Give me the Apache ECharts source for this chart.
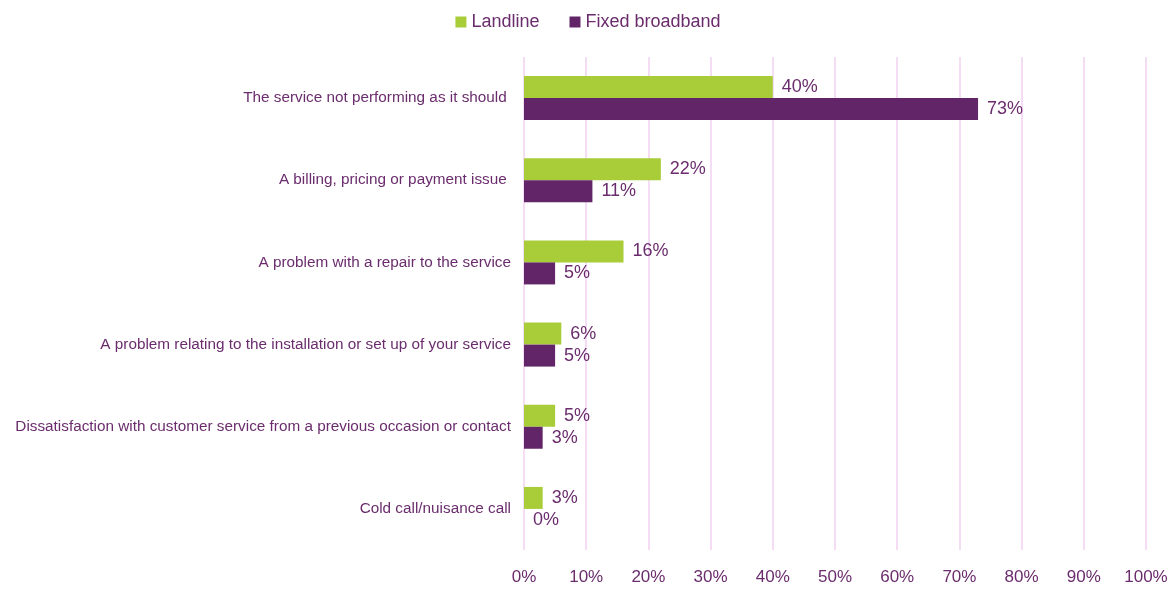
<!DOCTYPE html>
<html>
<head>
<meta charset="utf-8">
<script src="https://cdn.jsdelivr.net/npm/echarts@6/dist/echarts.min.js"></script>
<style>
  html, body { margin: 0; padding: 0; background: #fff; }
  #chart { width: 1176px; height: 592px; }
</style>
</head>
<body>
<div id="chart"></div>
<script>
const categories = [
  'The service not performing as it should ',
  'A billing, pricing or payment issue ',
  'A problem with a repair to the service',
  'A problem relating to the installation or set up of your service',
  'Dissatisfaction with customer service from a previous occasion or contact',
  'Cold call/nuisance call'
]
const landline = [40, 22, 16, 6, 5, 3]
const fixedBroadband = [73, 11, 5, 5, 3, 0]
const xTicks = [0, 10, 20, 30, 40, 50, 60, 70, 80, 90, 100]

const textColor = '#6a2c6c'
const font = '"Liberation Sans Narrow", "Arial Narrow", "Liberation Sans", sans-serif'

const chart = echarts.init(document.getElementById('chart'))

function barLabel() {
  return {
    show: true,
    position: 'right',
    distance: 9,
    color: textColor,
    fontFamily: font,
    fontSize: 18,
    formatter: p => p.value + '%',
  }
}

chart.setOption({
  animation: false,
  textStyle: { fontFamily: font, color: textColor },
  legend: {
    top: 8,
    left: 'center',
    itemWidth: 11,
    itemHeight: 11,
    itemGap: 30,
    icon: 'rect',
    textStyle: { color: textColor, fontSize: 18, fontFamily: font },
    data: ['Landline', 'Fixed broadband'],
  },
  grid: {
    left: 524,
    right: 30,
    top: 57,
    bottom: 42,
    outerBoundsMode: 'none',
  },
  xAxis: {
    type: 'value',
    min: xTicks[0],
    max: xTicks[xTicks.length - 1],
    interval: 10,
    axisLine: { show: false },
    axisTick: { show: false },
    splitLine: { show: true, lineStyle: { color: '#f0d2f2', width: 1.5 } },
    axisLabel: {
      color: textColor,
      fontSize: 17,
      fontFamily: font,
      margin: 19,
      formatter: v => v + '%',
    },
  },
  yAxis: {
    type: 'category',
    inverse: true,
    data: categories,
    axisLine: { show: false },
    axisTick: { show: false },
    splitLine: { show: false },
    axisLabel: {
      color: textColor,
      fontSize: 15.3,
      fontFamily: font,
      margin: 13,
    },
  },
  series: [
    {
      name: 'Landline',
      type: 'bar',
      data: landline,
      barWidth: 22,
      barGap: '0%',
      itemStyle: { color: '#a8cd39' },
      label: barLabel(),
    },
    {
      name: 'Fixed broadband',
      type: 'bar',
      data: fixedBroadband,
      barWidth: 22,
      itemStyle: { color: '#622668' },
      label: barLabel(),
    },
  ],
})
</script>
</body>
</html>
